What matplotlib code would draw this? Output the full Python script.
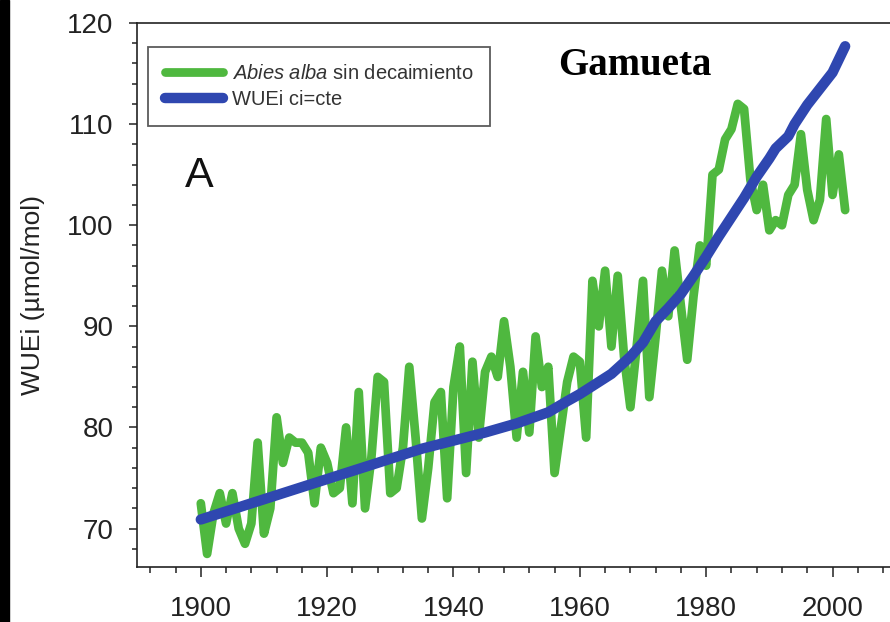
import numpy as np
import matplotlib
matplotlib.use("Agg")
import matplotlib.pyplot as plt
from matplotlib.patches import Rectangle

plt.rcParams['font.family'] = ['Liberation Sans', 'DejaVu Sans']
plt.rcParams['mathtext.fontset'] = 'custom'
plt.rcParams['mathtext.it'] = 'Liberation Sans:italic'
plt.rcParams['mathtext.rm'] = 'Liberation Sans'

# serie anual de Abies alba (sin decaimiento), 1900-2002
years = np.arange(1900, 2003)
wue_abies = [
    72.5, 67.5, 71.5, 73.5, 70.5, 73.5, 70.0, 68.5, 70.5, 78.5,   # 1900-1909
    69.5, 72.0, 81.0, 76.5, 79.0, 78.5, 78.5, 77.5, 72.5, 78.0,   # 1910-1919
    76.5, 73.5, 74.0, 80.0, 72.5, 83.5, 72.0, 77.0, 85.0, 84.5,   # 1920-1929
    73.5, 74.0, 78.0, 86.0, 79.0, 71.0, 76.0, 82.5, 83.5, 73.0,   # 1930-1939
    84.0, 88.0, 75.5, 86.5, 79.0, 85.5, 87.0, 85.0, 90.5, 86.0,   # 1940-1949
    79.0, 85.5, 79.5, 89.0, 84.0, 86.0, 75.5, 80.0, 84.5, 87.0,   # 1950-1959
    86.5, 79.0, 94.5, 90.0, 95.5, 88.0, 95.0, 87.0, 82.0, 88.0,   # 1960-1969
    94.5, 83.0, 89.0, 95.5, 91.0, 97.5, 92.0, 86.7, 93.0, 98.0,   # 1970-1979
    96.0, 105.0, 105.5, 108.5, 109.5, 112.0, 111.5, 104.5, 101.5, 104.0,  # 1980-1989
    99.5, 100.5, 100.0, 103.0, 104.0, 109.0, 103.5, 100.5, 102.5, 110.5,  # 1990-1999
    103.0, 107.0, 101.5,                                          # 2000-2002
]

# WUEi con ci constante
years_cte = [1900, 1905, 1910, 1915, 1920, 1925, 1930, 1935, 1940, 1945,
             1950, 1955, 1958, 1960, 1963, 1965, 1968, 1970, 1972, 1974,
             1976, 1978, 1980, 1982, 1984, 1986, 1988, 1990, 1991, 1993,
             1994, 1996, 1998, 2000, 2002]
wue_cte = [70.9, 71.9, 72.9, 73.9, 74.9, 75.9, 76.9, 77.9, 78.7, 79.5,
           80.4, 81.5, 82.6, 83.3, 84.5, 85.3, 87.0, 88.4, 90.5, 91.8,
           93.2, 95.0, 96.9, 98.9, 100.8, 102.7, 104.8, 106.6, 107.6, 108.8,
           110.0, 111.9, 113.5, 115.1, 117.7]

GREEN = '#4fb83f'
BLUE = '#2f47b0'

fig = plt.figure(figsize=(8.9, 6.22), dpi=100)
ax = fig.add_axes([137 / 890, 55 / 622, 753 / 890, 544 / 622])

ax.plot(years, wue_abies, color=GREEN, lw=6.3, solid_joinstyle='round',
        solid_capstyle='round', label=r'$\it{Abies\ alba}$ sin decaimiento')
ax.plot(years_cte, wue_cte, color=BLUE, lw=7.5, solid_joinstyle='round',
        solid_capstyle='round', label='WUEi ci=cte')

ax.set_xlim(1889.9, 2009.1)
ax.set_ylim(66.2, 120)
ax.set_xticks(range(1900, 2001, 20))
ax.set_xticks(range(1892, 2009, 4), minor=True)
ax.set_yticks(range(70, 121, 10))
ax.set_yticks(range(68, 121, 2), minor=True)
ax.tick_params(axis='both', which='both', direction='out', colors='#222222',
               labelsize=20, width=1.1)
ax.tick_params(axis='x', which='major', length=7, pad=14)
ax.tick_params(axis='x', which='minor', length=4.5)
ax.tick_params(axis='y', which='major', length=6, pad=11)
ax.tick_params(axis='y', which='minor', length=3.5)

for side in ['left', 'bottom', 'top']:
    ax.spines[side].set_linewidth(1.2)
    ax.spines[side].set_color('#222222')
ax.spines['right'].set_visible(False)

ax.set_ylabel('WUEi (µmol/mol)', fontsize=19, color='#222222')
ax.yaxis.set_label_coords(-0.122, 0.5)

leg = ax.legend(loc='upper left', bbox_to_anchor=(148 / 890, 1 - 47 / 622),
                bbox_transform=fig.transFigure, fontsize=14.5, frameon=True,
                fancybox=False, handlelength=2.85, handletextpad=0.45,
                borderpad=0.85, labelspacing=0.35, borderaxespad=0)
leg.get_frame().set_edgecolor('#333333')
leg.get_frame().set_linewidth(1.3)
for t in leg.get_texts():
    t.set_color('#333333')

ax.text(0.0637, 0.6985, 'A', transform=ax.transAxes, fontsize=31,
        color='#111111')
ax.text(0.559, 0.904, 'Gamueta', transform=ax.transAxes, fontsize=28,
        fontweight='bold', family='Liberation Serif', color='black')

# franja negra del borde izquierdo
fig.patches.append(Rectangle((0, 0), 9 / 890, 1, transform=fig.transFigure,
                             color='black', zorder=10))

fig.savefig('out.png', dpi=100)
